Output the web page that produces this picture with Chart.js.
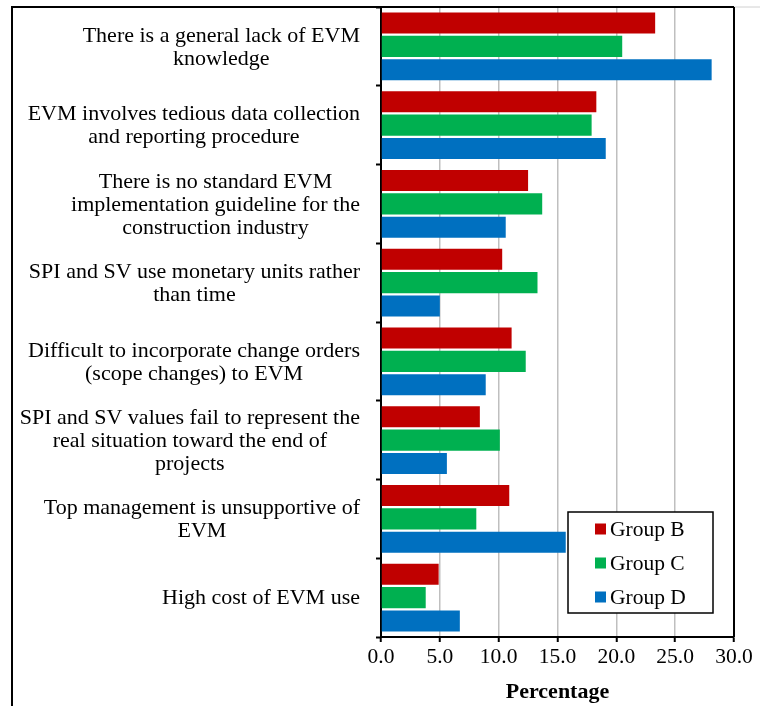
<!DOCTYPE html>
<html>
<head>
<meta charset="utf-8">
<script src="https://cdn.jsdelivr.net/npm/chart.js@4/dist/chart.umd.min.js"></script>
<style>
  html, body { margin: 0; padding: 0; background: #fff; }
  #wrap { width: 760px; height: 706px; }
</style>
</head>
<body>
<div id="wrap"><canvas id="c" width="760" height="706"></canvas></div>
<script>
const categories = [
  ["There is a general lack of EVM", "knowledge"],
  ["EVM involves tedious data collection", "and reporting procedure"],
  ["There is no standard EVM", "implementation guideline for the", "construction industry"],
  ["SPI and SV use monetary units rather", "than time"],
  ["Difficult to incorporate change orders", "(scope changes) to EVM"],
  ["SPI and SV values fail to represent the", "real situation toward the end of", "projects"],
  ["Top management is unsupportive of", "EVM"],
  ["High cost of EVM use"]
];
const seriesNames = ["Group B", "Group C", "Group D"];
const groupB = [23.3, 18.3, 12.5, 10.3, 11.1, 8.4, 10.9, 4.9];
const groupC = [20.5, 17.9, 13.7, 13.3, 12.3, 10.1, 8.1, 3.8];
const groupD = [28.1, 19.1, 10.6, 5.0, 8.9, 5.6, 15.7, 6.7];
const xTicks = [0, 5, 10, 15, 20, 25, 30];
const colors = ["#C00000", "#00B050", "#0070C0"];

const FONT = "'Liberation Serif', 'Times New Roman', serif";

const framePlugin = {
  id: 'frame',
  afterDraw(chart) {
    const ctx = chart.ctx;
    const a = chart.chartArea;
    ctx.save();
    // outer frame (left and top)
    ctx.strokeStyle = '#000';
    ctx.lineWidth = 2;
    ctx.beginPath();
    ctx.moveTo(12, 706);
    ctx.lineTo(12, a.top);
    ctx.lineTo(a.right, a.top);
    ctx.stroke();
    ctx.strokeStyle = '#d0d0d0';
    ctx.lineWidth = 1;
    ctx.beginPath();
    ctx.moveTo(a.right, a.top);
    ctx.lineTo(760, a.top);
    ctx.stroke();
    // plot box right edge
    ctx.strokeStyle = '#000';
    ctx.lineWidth = 2;
    ctx.beginPath();
    ctx.moveTo(a.right, a.top);
    ctx.lineTo(a.right, a.bottom);
    ctx.stroke();

    // y category labels: block right aligned, lines centered within block
    const ys = chart.scales.y;
    ctx.font = "22px " + FONT;
    ctx.fillStyle = '#000';
    ctx.textBaseline = 'middle';
    ctx.textAlign = 'center';
    const rightEdge = a.left - 21;
    const lh = 23;
    chart.data.labels.forEach((lines, i) => {
      const arr = Array.isArray(lines) ? lines : [lines];
      let maxW = 0;
      arr.forEach(t => { maxW = Math.max(maxW, ctx.measureText(t).width); });
      const cx = rightEdge - maxW / 2;
      const cy = ys.getPixelForValue(i) + 1;
      const y0 = cy - (arr.length - 1) * lh / 2;
      arr.forEach((t, k) => ctx.fillText(t, cx, y0 + k * lh));
    });

    // legend box inside plot
    const lx = a.right - 166, ly = a.bottom - 125, lw = 145, lhgt = 101;
    ctx.fillStyle = '#fff';
    ctx.fillRect(lx, ly, lw, lhgt);
    ctx.strokeStyle = '#000';
    ctx.lineWidth = 1.5;
    ctx.strokeRect(lx, ly, lw, lhgt);
    ctx.font = "21.5px " + FONT;
    ctx.textAlign = 'left';
    ctx.textBaseline = 'middle';
    chart.data.datasets.forEach((ds, i) => {
      const cy = ly + 17 + i * 34;
      ctx.fillStyle = ds.backgroundColor;
      ctx.fillRect(lx + 27, cy - 5.5, 11, 11);
      ctx.fillStyle = '#000';
      ctx.fillText(ds.label, lx + 42, cy + 1);
    });
    ctx.restore();
  }
};

new Chart(document.getElementById('c'), {
  type: 'bar',
  data: {
    labels: categories,
    datasets: [
      { label: seriesNames[0], data: groupB, backgroundColor: colors[0] },
      { label: seriesNames[1], data: groupC, backgroundColor: colors[1] },
      { label: seriesNames[2], data: groupD, backgroundColor: colors[2] }
    ]
  },
  options: {
    indexAxis: 'y',
    responsive: false,
    animation: false,
    devicePixelRatio: 1,
    layout: { padding: { top: 7, right: 26, left: 0, bottom: 0 } },
    datasets: {
      bar: { categoryPercentage: 0.89, barPercentage: 0.9, borderWidth: 0 }
    },
    plugins: {
      legend: { display: false },
      tooltip: { enabled: false }
    },
    scales: {
      y: {
        type: 'category',
        offset: true,
        grid: {
          offset: true,
          drawOnChartArea: false,
          drawTicks: true,
          tickLength: 5,
          tickColor: '#000',
          tickWidth: 2
        },
        border: { display: true, color: '#000', width: 2 },
        ticks: { display: false },
        afterFit(scale) { scale.width = 381; }
      },
      x: {
        type: 'linear',
        min: 0,
        max: 30,
        afterBuildTicks(scale) { scale.ticks = xTicks.map(v => ({ value: v })); },
        grid: {
          color: '#BFBFBF',
          lineWidth: 1.5,
          drawTicks: true,
          tickLength: 5,
          tickColor: '#000',
          tickWidth: 2
        },
        border: { display: true, color: '#000', width: 2 },
        ticks: {
          color: '#000',
          font: { family: FONT, size: 21.5 },
          padding: 2,
          maxRotation: 0,
          callback: v => Number(v).toFixed(1)
        },
        title: {
          display: true,
          text: 'Percentage',
          color: '#000',
          font: { family: FONT, size: 22, weight: 'bold' },
          padding: { top: 2, bottom: 0 }
        },
        afterFit(scale) { scale.height = 69; }
      }
    }
  },
  plugins: [framePlugin]
});
</script>
</body>
</html>
